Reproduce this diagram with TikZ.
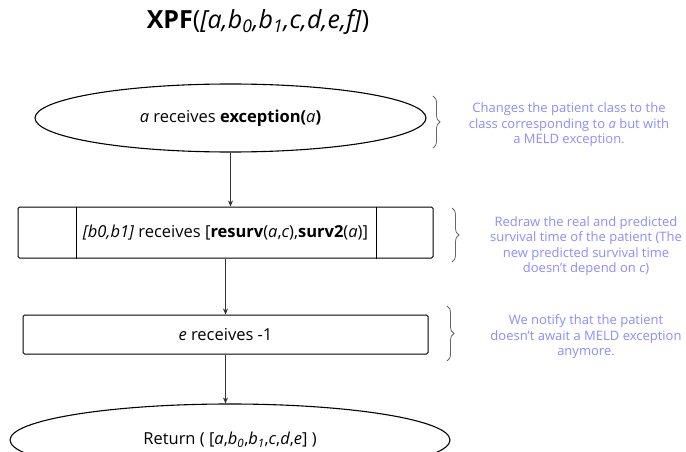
\documentclass[tikz,border=0pt]{standalone}
\usepackage{fontspec}
\setmainfont{Open Sans}
\usetikzlibrary{shapes.geometric,arrows.meta,decorations.pathreplacing}
\definecolor{notecol}{RGB}{140,140,255}
\begin{document}
\begin{tikzpicture}[x=1pt,y=-1pt,
    oval/.style = {draw, ellipse, line width=1.1pt, inner sep=0pt, font=\fontsize{16.5}{19}\selectfont},
    blk/.style = {draw, rectangle, rounded corners=1.5pt, line width=1pt, inner sep=0pt, font=\fontsize{16.5}{19}\selectfont},
    note/.style = {text=notecol, align=center, font=\fontsize{13}{15.5}\selectfont},
    brc/.style = {draw=black!60, line width=0.8pt, decorate, decoration={brace, amplitude=7pt}},
    arr/.style = {draw=black!80, line width=0.7pt, -{Stealth[length=6pt,width=5pt]}}]
  \useasboundingbox (0,0) rectangle (686,452);
  \node (title) at (258,22) {\fontsize{25}{29}\selectfont\textbf{XPF}(\textit{[a,b\textsubscript{0},b\textsubscript{1},c,d,e,f]})};
  \node[oval, minimum width=391pt, minimum height=68pt] (e1) at (230.5,118) {\textit{a} receives \textbf{exception(}\textit{a}\textbf{)}};
  \node[blk, minimum width=415pt, minimum height=51pt] (b2) at (225.5,232.5) {\textit{[b0,b1]} receives [\textbf{resurv}(\textit{a},\textit{c}),\textbf{surv2}(\textit{a})]};
  \draw[line width=0.8pt] ([xshift=59pt]b2.north west) -- ([xshift=59pt]b2.south west);
  \draw[line width=0.8pt] ([xshift=-57pt]b2.north east) -- ([xshift=-57pt]b2.south east);
  \node[blk, minimum width=405pt, minimum height=39pt] (b3) at (225.5,334.5) {\textit{e} receives -1};
  \node[oval, minimum width=440pt, minimum height=72pt] (e4) at (230,440) {Return ( [\textit{a},\textit{b\textsubscript{0}},\textit{b\textsubscript{1}},\textit{c},\textit{d},\textit{e}] )};
  % arrows
  \draw[arr] (e1.south) -- (e1.south |- b2.north);
  \draw[arr] (b2.south) -- (b2.south |- b3.north);
  \draw[arr] (b3.south) -- (b3.south |- e4.north);
  % notes
  \node[note] (n1) at (569,125) {Changes the patient class to the\\class corresponding to \textit{a} but with\\a MELD exception.};
  \node[note] (n2) at (586,246) {Redraw the real and predicted\\survival time of the patient (The\\new predicted survival time\\doesn't depend on \textit{c})};
  \node[note] (n3) at (586,337) {We notify that the patient\\doesn't await a MELD exception\\anymore.};
  \draw[brc] (433,96) -- (433,148);
  \draw[brc] (452,208) -- (452,262);
  \draw[brc] (447,306) -- (447,361);
\end{tikzpicture}
\end{document}
